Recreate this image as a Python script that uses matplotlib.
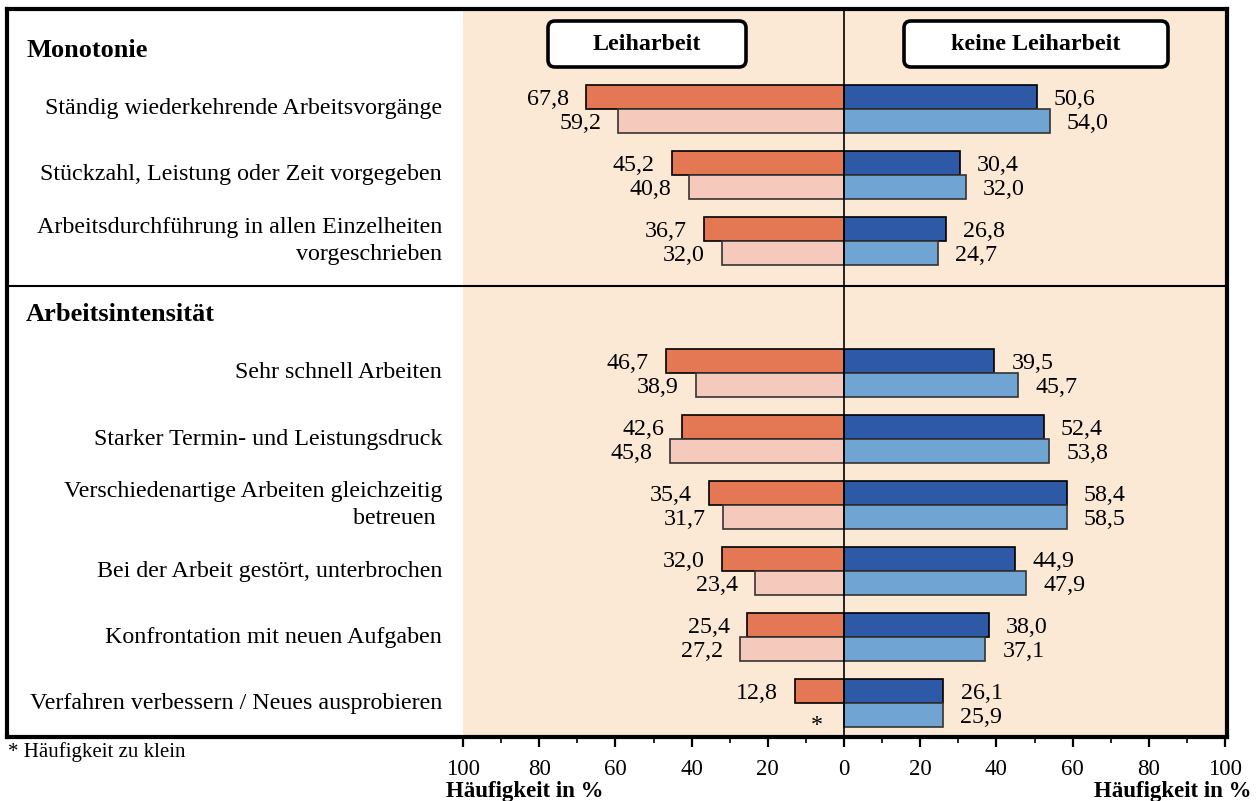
import matplotlib
matplotlib.use("Agg")
import matplotlib.pyplot as plt
from matplotlib.patches import FancyBboxPatch
from matplotlib.ticker import FixedLocator, FuncFormatter

plt.rcParams['font.family'] = ['Liberation Serif', 'DejaVu Serif']

# ---- data -------------------------------------------------------------
sections = ["Monotonie", "Arbeitsintensität"]
section_items = [
    ["Ständig wiederkehrende Arbeitsvorgänge",
     "Stückzahl, Leistung oder Zeit vorgegeben",
     "Arbeitsdurchführung in allen Einzelheiten\nvorgeschrieben"],
    ["Sehr schnell Arbeiten",
     "Starker Termin- und Leistungsdruck",
     "Verschiedenartige Arbeiten gleichzeitig\nbetreuen ",
     "Bei der Arbeit gestört, unterbrochen",
     "Konfrontation mit neuen Aufgaben",
     "Verfahren verbessern / Neues ausprobieren"],
]
# None = frequency too small to report (marked with *)
leih_upper = [67.8, 45.2, 36.7, 46.7, 42.6, 35.4, 32.0, 25.4, 12.8]
leih_lower = [59.2, 40.8, 32.0, 38.9, 45.8, 31.7, 23.4, 27.2, None]
keine_upper = [50.6, 30.4, 26.8, 39.5, 52.4, 58.4, 44.9, 38.0, 26.1]
keine_lower = [54.0, 32.0, 24.7, 45.7, 53.8, 58.5, 47.9, 37.1, 25.9]

panel_titles = ["Leiharbeit", "keine Leiharbeit"]
axis_label = "Häufigkeit in %"
footnote = "* Häufigkeit zu klein"

# ---- styling ----------------------------------------------------------
C_LEIH_UP = "#E47854"
C_LEIH_LO = "#F5C9BC"
C_KEINE_UP = "#2E59A7"
C_KEINE_LO = "#6FA4D3"
C_BG = "#FBE9D6"
FS = 17.3

W, H = 1256, 801
fig = plt.figure(figsize=(W / 100, H / 100), dpi=100)
fig.patch.set_facecolor("white")

# axes spans the whole framed box; the value scale runs -100..100 on the right part
ax = fig.add_axes([7 / W, 1 - 737 / H, 1220 / W, 728 / H])
px_per_unit = 3.81
zero_px = 844
ax.set_xlim((7 - zero_px) / px_per_unit, (1227 - zero_px) / px_per_unit)
ax.set_ylim(10.515, -0.515)

for s in ax.spines.values():
    s.set_linewidth(3)
    s.set_color("black")

ax.axvspan(-100, ax.get_xlim()[1], color=C_BG, zorder=0, lw=0)

# row layout: a slot per header and per item
rows = []
slot = 0
header_slots = []
for sec, items in zip(sections, section_items):
    header_slots.append(slot)
    slot += 1
    for it in items:
        rows.append((slot, it))
        slot += 1

bar_h = 0.364
off = bar_h / 2

def fmt(v):
    return f"{v:.1f}".replace(".", ",")

gap = 4.5
for i, (y, label) in enumerate(rows):
    ax.text(-105.5, y, label, ha="right", va="center", fontsize=FS,
            multialignment="right", linespacing=1.32)
    # Leiharbeit (left, negative direction)
    lu = leih_upper[i]
    ll = leih_lower[i]
    ax.barh(y - off, -lu, height=bar_h, color=C_LEIH_UP, edgecolor="black",
            lw=1.2, zorder=2)
    ax.text(-lu - gap, y - off, fmt(lu), ha="right", va="center_baseline",
            fontsize=FS)
    if ll is None:
        ax.text(-gap - 1, y + off + 0.12, "*", ha="right",
                va="center_baseline", fontsize=FS)
    else:
        ax.barh(y + off, -ll, height=bar_h, color=C_LEIH_LO, edgecolor="#333333",
                lw=1.2, zorder=2)
        ax.text(-ll - gap, y + off, fmt(ll), ha="right", va="center_baseline",
                fontsize=FS)
    # keine Leiharbeit (right)
    ku = keine_upper[i]
    kl = keine_lower[i]
    ax.barh(y - off, ku, height=bar_h, color=C_KEINE_UP, edgecolor="black",
            lw=1.2, zorder=2)
    ax.text(ku + gap, y - off, fmt(ku), ha="left", va="center_baseline",
            fontsize=FS)
    ax.barh(y + off, kl, height=bar_h, color=C_KEINE_LO, edgecolor="#333333",
            lw=1.2, zorder=2)
    ax.text(kl + gap, y + off, fmt(kl), ha="left", va="center_baseline",
            fontsize=FS)

for hs, sec in zip(header_slots, sections):
    ax.text(ax.get_xlim()[0] + 5.0, hs + 0.11, sec, ha="left", va="center",
            fontsize=19, fontweight="bold")

# section divider and zero line
ax.axhline(3.68, color="black", lw=1.5, zorder=3)
ax.axvline(0, color="black", lw=1.2, zorder=3)

# x axis ticks only over the value range
ax.xaxis.set_major_locator(FixedLocator(list(range(-100, 101, 20))))
ax.xaxis.set_minor_locator(FixedLocator(list(range(-90, 100, 20))))
ax.xaxis.set_major_formatter(FuncFormatter(lambda v, p: f"{abs(int(round(v)))}"))
ax.tick_params(axis="x", which="major", direction="out", length=7, width=1.6,
               labelsize=16.5, pad=9)
ax.tick_params(axis="x", which="minor", direction="out", length=4, width=1.2)
ax.set_yticks([])

fig.text(446 / W, 1 - 791 / H, axis_label, ha="left", va="center",
         fontsize=16.5, fontweight="bold")
fig.text(1252 / W, 1 - 791 / H, axis_label, ha="right", va="center",
         fontsize=16.5, fontweight="bold")
fig.text(8 / W, 1 - 752 / H, footnote, ha="left", va="center", fontsize=15)

# rounded title boxes above each half
def title_box(x0, x1, y0, y1, text):
    box = FancyBboxPatch((x0 / 100, (H - y1) / 100), (x1 - x0) / 100,
                         (y1 - y0) / 100,
                         boxstyle="round,pad=0,rounding_size=0.07",
                         transform=fig.dpi_scale_trans, facecolor="white",
                         edgecolor="black", lw=2.6, zorder=5)
    fig.patches.append(box)
    fig.text((x0 + x1) / 2 / W, 1 - (y0 + y1) / 2 / H, text, ha="center",
             va="center", fontsize=17.3, fontweight="bold", zorder=6)

title_box(548, 746, 21, 67, panel_titles[0])
title_box(904, 1168, 21, 67, panel_titles[1])

fig.savefig("out.png", dpi=100)
